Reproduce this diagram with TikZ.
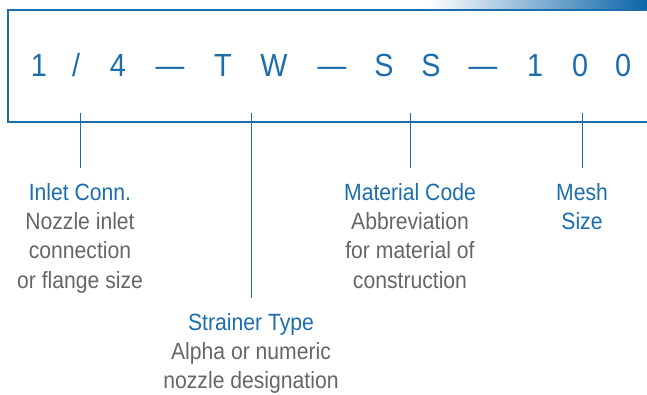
\documentclass[tikz,border=0pt]{standalone}
\usepackage{fontspec}
\setmainfont[FakeStretch=0.9]{Liberation Sans}
\usetikzlibrary{positioning}
\definecolor{codeblue}{HTML}{1B6DAE}
\definecolor{notegrey}{HTML}{666666}
\definecolor{barblue}{HTML}{0B65A8}

\begin{document}
\begin{tikzpicture}[x=1pt, y=-1pt, every node/.style={inner sep=0pt},
    ch/.style={anchor=base, text=codeblue, font=\fontsize{32}{32}\selectfont},
    note/.style={align=center, text=notegrey, inner ysep=15pt, font=\fontsize{23.5}{29.3}\selectfont},
    tick/.style={draw=codeblue, line width=0.9pt},
    box/.style={draw=codeblue, line width=2pt}]
    \useasboundingbox (0,0) rectangle (647,394);
    % top bar and frame
    \shade[left color=white, right color=barblue] (428,0) rectangle (647,8);
    \draw[box] (647,10) -- (8,10) -- (8,122) -- (647,122);
    % the code
    \node[ch] (c1) at (39,76) {1};
    \node[ch] (c2) at (76,76) {/};
    \node[ch] (c3) at (118,76) {4};
    \node[ch] (c4) at (170,76) {—};
    \node[ch] (c5) at (223,76) {T};
    \node[ch] (c6) at (274,76) {W};
    \node[ch] (c7) at (332,76) {—};
    \node[ch] (c8) at (384,76) {S};
    \node[ch] (c9) at (431,76) {S};
    \node[ch] (c10) at (483,76) {—};
    \node[ch] (c11) at (535,76) {1};
    \node[ch] (c12) at (580,76) {0};
    \node[ch] (c13) at (623,76) {0};
    % labels
    \coordinate (top1) at (80,113);
    \coordinate (top2) at (251,113);
    \coordinate (top3) at (410,113);
    \coordinate (top4) at (582,113);
    \node[note, below=55pt of top1] (inlet) {{\color{codeblue}Inlet Conn.}\\Nozzle inlet\\connection\\or flange size};
    \node[note, below=185pt of top2] (strainer) {{\color{codeblue}Strainer Type}\\Alpha or numeric\\nozzle designation};
    \node[note, below=55pt of top3] (material) {{\color{codeblue}Material Code}\\Abbreviation\\for material of\\construction};
    \node[note, below=55pt of top4] (mesh) {{\color{codeblue}Mesh}\\{\color{codeblue}Size}};
    \draw[tick] (top1) -- (inlet);
    \draw[tick] (top2) -- (strainer);
    \draw[tick] (top3) -- (material);
    \draw[tick] (top4) -- (mesh);
\end{tikzpicture}
\end{document}
